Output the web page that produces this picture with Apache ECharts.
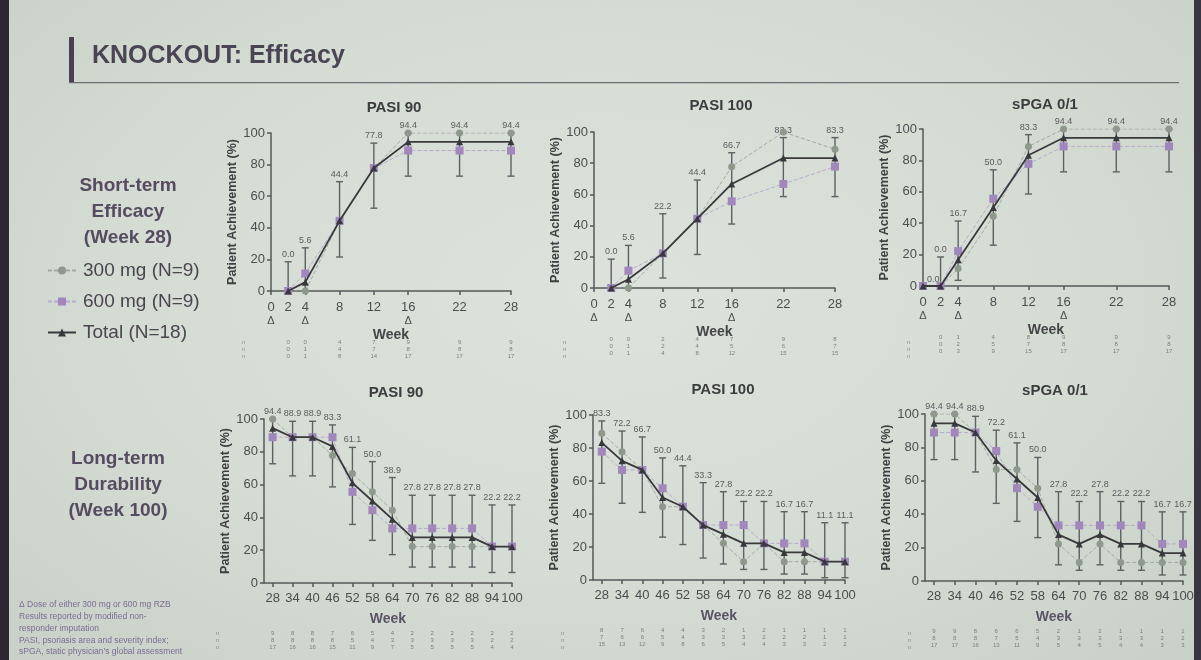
<!DOCTYPE html>
<html>
<head>
<meta charset="utf-8">
<script src="https://cdn.jsdelivr.net/npm/echarts@6/dist/echarts.min.js"></script>
<style>
  html, body { margin: 0; padding: 0; }
  body {
    width: 1201px; height: 660px; overflow: hidden;
    background: radial-gradient(ellipse at 50% 45%, #dde3dc 0%, #d5dcd4 55%, #c9d0c8 100%);
  }
  #main { width: 1201px; height: 660px; }
</style>
</head>
<body>
<div id="main"></div>
<script>
(function() {
  // ---- weeks / ticks ----
  var shortWeeks = [2, 4, 8, 12, 16, 22, 28];
  var spgaShortWeeks = [0, 2, 4, 8, 12, 16, 22, 28];
  var longWeeks = [28, 34, 40, 46, 52, 58, 64, 70, 76, 82, 88, 94, 100];
  var shortTicks = [0, 2, 4, 8, 12, 16, 22, 28];
  var doseWeeks = [0, 4, 16];

  // ---- short-term PASI 90 ----
  var s90_300 = [0, 0, 44.4, 77.8, 100, 100, 100];
  var s90_600 = [0, 11.1, 44.4, 77.8, 88.9, 88.9, 88.9];
  var s90_tot = [0, 5.6, 44.4, 77.8, 94.4, 94.4, 94.4];
  var s90_lo = [0, 0.1, 21.5, 52.4, 72.7, 72.7, 72.7];
  var s90_hi = [18.5, 27.3, 69.2, 93.6, 99.9, 99.9, 99.9];
  var s90_n300 = [0, 0, 4, 7, 9, 9, 9];
  var s90_n600 = [0, 1, 4, 7, 8, 8, 8];
  var s90_ntot = [0, 1, 8, 14, 17, 17, 17];

  // ---- short-term PASI 100 ----
  var s100_300 = [0, 0, 22.2, 44.4, 77.8, 100, 88.9];
  var s100_600 = [0, 11.1, 22.2, 44.4, 55.6, 66.7, 77.8];
  var s100_tot = [0, 5.6, 22.2, 44.4, 66.7, 83.3, 83.3];
  var s100_lo = [0, 0.1, 6.4, 21.5, 41.0, 58.6, 58.6];
  var s100_hi = [18.5, 27.3, 47.6, 69.2, 86.7, 96.4, 96.4];
  var s100_n300 = [0, 0, 2, 4, 7, 9, 8];
  var s100_n600 = [0, 1, 2, 4, 5, 6, 7];
  var s100_ntot = [0, 1, 4, 8, 12, 15, 15];

  // ---- short-term sPGA 0/1 ----
  var sPga_300 = [0, 0, 11.1, 44.4, 88.9, 100, 100, 100];
  var sPga_600 = [0, 0, 22.2, 55.6, 77.8, 88.9, 88.9, 88.9];
  var sPga_tot = [0, 0, 16.7, 50.0, 83.3, 94.4, 94.4, 94.4];
  var sPga_lo = [null, 0, 3.6, 26.0, 58.6, 72.7, 72.7, 72.7];
  var sPga_hi = [null, 18.5, 41.4, 74.0, 96.4, 99.9, 99.9, 99.9];
  var sPga_n300 = [null, 0, 1, 4, 8, 9, 9, 9];
  var sPga_n600 = [null, 0, 2, 5, 7, 8, 8, 8];
  var sPga_ntot = [null, 0, 3, 9, 15, 17, 17, 17];

  // ---- long-term PASI 90 ----
  var l90_300 = [100, 88.9, 88.9, 77.8, 66.7, 55.6, 44.4, 22.2, 22.2, 22.2, 22.2, 22.2, 22.2];
  var l90_600 = [88.9, 88.9, 88.9, 88.9, 55.6, 44.4, 33.3, 33.3, 33.3, 33.3, 33.3, 22.2, 22.2];
  var l90_tot = [94.4, 88.9, 88.9, 83.3, 61.1, 50.0, 38.9, 27.8, 27.8, 27.8, 27.8, 22.2, 22.2];
  var l90_lo = [72.7, 65.3, 65.3, 58.6, 35.7, 26.0, 17.3, 9.7, 9.7, 9.7, 9.7, 6.4, 6.4];
  var l90_hi = [99.9, 98.6, 98.6, 96.4, 82.7, 74.0, 64.3, 53.5, 53.5, 53.5, 53.5, 47.6, 47.6];
  var l90_n300 = [9, 8, 8, 7, 6, 5, 4, 2, 2, 2, 2, 2, 2];
  var l90_n600 = [8, 8, 8, 8, 5, 4, 3, 3, 3, 3, 3, 2, 2];
  var l90_ntot = [17, 16, 16, 15, 11, 9, 7, 5, 5, 5, 5, 4, 4];

  // ---- long-term PASI 100 ----
  var l100_300 = [88.9, 77.8, 66.7, 44.4, 44.4, 33.3, 22.2, 11.1, 22.2, 11.1, 11.1, 11.1, 11.1];
  var l100_600 = [77.8, 66.7, 66.7, 55.6, 44.4, 33.3, 33.3, 33.3, 22.2, 22.2, 22.2, 11.1, 11.1];
  var l100_tot = [83.3, 72.2, 66.7, 50.0, 44.4, 33.3, 27.8, 22.2, 22.2, 16.7, 16.7, 11.1, 11.1];
  var l100_lo = [58.6, 46.5, 41.0, 26.0, 21.5, 13.3, 9.7, 6.4, 6.4, 3.6, 3.6, 1.4, 1.4];
  var l100_hi = [96.4, 90.3, 86.7, 74.0, 69.2, 59.0, 53.5, 47.6, 47.6, 41.4, 41.4, 34.7, 34.7];
  var l100_n300 = [8, 7, 6, 4, 4, 3, 2, 1, 2, 1, 1, 1, 1];
  var l100_n600 = [7, 6, 6, 5, 4, 3, 3, 3, 2, 2, 2, 1, 1];
  var l100_ntot = [15, 13, 12, 9, 8, 6, 5, 4, 4, 3, 3, 2, 2];

  // ---- long-term sPGA 0/1 ----
  var lPga_300 = [100, 100, 88.9, 66.7, 66.7, 55.6, 22.2, 11.1, 22.2, 11.1, 11.1, 11.1, 11.1];
  var lPga_600 = [88.9, 88.9, 88.9, 77.8, 55.6, 44.4, 33.3, 33.3, 33.3, 33.3, 33.3, 22.2, 22.2];
  var lPga_tot = [94.4, 94.4, 88.9, 72.2, 61.1, 50.0, 27.8, 22.2, 27.8, 22.2, 22.2, 16.7, 16.7];
  var lPga_lo = [72.7, 72.7, 65.3, 46.5, 35.7, 26.0, 9.7, 6.4, 9.7, 6.4, 6.4, 3.6, 3.6];
  var lPga_hi = [99.9, 99.9, 98.6, 90.3, 82.7, 74.0, 53.5, 47.6, 53.5, 47.6, 47.6, 41.4, 41.4];
  var lPga_n300 = [9, 9, 8, 6, 6, 5, 2, 1, 2, 1, 1, 1, 1];
  var lPga_n600 = [8, 8, 8, 7, 5, 4, 3, 3, 3, 3, 3, 2, 2];
  var lPga_ntot = [17, 17, 16, 13, 11, 9, 5, 4, 5, 4, 4, 3, 3];

  var seriesNames = ['300 mg (N=9)', '600 mg (N=9)', 'Total (N=18)'];

  var panels = [
    { title: 'PASI 90', weeks: shortWeeks, long: false, d300: s90_300, d600: s90_600, tot: s90_tot, lo: s90_lo, hi: s90_hi, n: [s90_n300, s90_n600, s90_ntot] },
    { title: 'PASI 100', weeks: shortWeeks, long: false, d300: s100_300, d600: s100_600, tot: s100_tot, lo: s100_lo, hi: s100_hi, n: [s100_n300, s100_n600, s100_ntot] },
    { title: 'sPGA 0/1', weeks: spgaShortWeeks, long: false, d300: sPga_300, d600: sPga_600, tot: sPga_tot, lo: sPga_lo, hi: sPga_hi, n: [sPga_n300, sPga_n600, sPga_ntot] },
    { title: 'PASI 90', weeks: longWeeks, long: true, d300: l90_300, d600: l90_600, tot: l90_tot, lo: l90_lo, hi: l90_hi, n: [l90_n300, l90_n600, l90_ntot] },
    { title: 'PASI 100', weeks: longWeeks, long: true, d300: l100_300, d600: l100_600, tot: l100_tot, lo: l100_lo, hi: l100_hi, n: [l100_n300, l100_n600, l100_ntot] },
    { title: 'sPGA 0/1', weeks: longWeeks, long: true, d300: lPga_300, d600: lPga_600, tot: lPga_tot, lo: lPga_lo, hi: lPga_hi, n: [lPga_n300, lPga_n600, lPga_ntot] }
  ];

  // layout of the six plots (pixels)
  var boxes = [
    { left: 271, top: 133, width: 240, height: 158, tx: 389, ty: 95 },
    { left: 594, top: 132, width: 241, height: 156, tx: 716, ty: 93 },
    { left: 923, top: 129, width: 246, height: 157, tx: 1040, ty: 92 },
    { left: 264, top: 419, width: 248, height: 164, tx: 391, ty: 380 },
    { left: 593, top: 415, width: 252, height: 165, tx: 718, ty: 377 },
    { left: 925, top: 414, width: 258, height: 167, tx: 1050, ty: 378 }
  ];

  var font = '"Liberation Sans", Arial, sans-serif';
  var axisCol = '#56585a';
  var c300 = '#8d9a8b', c300line = '#a2aaa1';
  var c600 = '#a088bd', c600line = '#b9a9cb';
  var cTot = '#38383d';
  var barCol = '#5e6063';

  var grids = [], xAxes = [], yAxes = [], titles = [], series = [];

  function pts(weeks, arr) {
    return weeks.map(function(w, i) { return [w, arr[i]]; });
  }

  function errorItem(params, api) {
    var x = api.value(0), lo = api.value(1), hi = api.value(2), v = api.value(3);
    var label = v.toFixed(1);
    var style = { stroke: barCol, lineWidth: 1.4 };
    var cap = 3.5;
    if (isNaN(lo) || isNaN(hi)) {
      var p = api.coord([x, v]);
      return { type: 'text', style: { text: label, x: p[0] + 4, y: p[1] - 2, textAlign: 'left', textVerticalAlign: 'bottom', fill: '#5b5b5e', fontSize: 9, fontFamily: font } };
    }
    var top = api.coord([x, hi]);
    var bot = api.coord([x, lo]);
    return {
      type: 'group',
      children: [
        { type: 'line', shape: { x1: top[0], y1: top[1], x2: bot[0], y2: bot[1] }, style: style },
        { type: 'line', shape: { x1: top[0] - cap, y1: top[1], x2: top[0] + cap, y2: top[1] }, style: style },
        { type: 'line', shape: { x1: bot[0] - cap, y1: bot[1], x2: bot[0] + cap, y2: bot[1] }, style: style },
        { type: 'text', style: { text: label, x: top[0], y: top[1] - 3, textAlign: 'center', textVerticalAlign: 'bottom', fill: '#5b5b5e', fontSize: 9, fontFamily: font } }
      ]
    };
  }

  panels.forEach(function(p, i) {
    var b = boxes[i];
    var xmin = p.long ? 25.4 : 0;
    var xmax = p.long ? 100 : 28;
    var ticks = p.long ? longWeeks : shortTicks;
    grids.push({ left: b.left, top: b.top, width: b.width, height: b.height });
    titles.push({
      text: p.title, left: b.tx, top: b.ty, textAlign: 'center',
      textStyle: { fontFamily: font, fontSize: 15, fontWeight: 'bold', color: '#3d3d40' }
    });
    xAxes.push({
      type: 'value', gridIndex: i, min: xmin, max: xmax,
      name: 'Week', nameLocation: 'middle', nameGap: p.long ? 29 : 30,
      nameTextStyle: { fontFamily: font, fontSize: 14, fontWeight: 'bold', color: p.long ? '#5c5266' : '#454548' },
      axisLine: { show: true, onZero: false, lineStyle: { color: axisCol, width: 1.5 } },
      axisTick: { show: true, customValues: ticks, length: 4, lineStyle: { color: axisCol, width: 1.5 } },
      splitLine: { show: false },
      axisLabel: {
        customValues: ticks, margin: p.long ? 9 : 10, fontFamily: font, fontSize: 13, color: '#4d4d50', lineHeight: 13,
        formatter: p.long ? '{value}' : function(v) {
          return doseWeeks.indexOf(v) >= 0 ? v + '\n{d|Δ}' : v + '\n{d| }';
        },
        rich: { d: { fontSize: 11, lineHeight: 13, color: '#4d4d50', fontFamily: font } }
      }
    });
    yAxes.push({
      type: 'value', gridIndex: i, min: 0, max: 100, interval: 20,
      name: 'Patient Achievement (%)', nameLocation: 'middle', nameGap: 31,
      nameTextStyle: { fontFamily: font, fontSize: 12.5, fontWeight: 'bold', color: '#404043' },
      axisLine: { show: true, lineStyle: { color: axisCol, width: 1.5 } },
      axisTick: { show: true, length: 4, lineStyle: { color: axisCol, width: 1.5 } },
      splitLine: { show: false },
      axisLabel: { margin: 6, fontFamily: font, fontSize: 13, color: '#4d4d50' }
    });
    series.push({
      type: 'custom', xAxisIndex: i, yAxisIndex: i, z: 1, silent: true,
      renderItem: errorItem,
      data: p.weeks.map(function(w, k) { return [w, p.lo[k], p.hi[k], p.tot[k]]; })
    });
    series.push({
      name: seriesNames[0], type: 'line', xAxisIndex: i, yAxisIndex: i, z: 3,
      data: pts(p.weeks, p.d300), symbol: 'circle', symbolSize: 7,
      itemStyle: { color: c300 },
      lineStyle: { color: c300line, width: 1, type: [4, 2] }
    });
    series.push({
      name: seriesNames[1], type: 'line', xAxisIndex: i, yAxisIndex: i, z: 3,
      data: pts(p.weeks, p.d600), symbol: 'rect', symbolSize: 8,
      itemStyle: { color: c600 },
      lineStyle: { color: c600line, width: 1, type: [4, 2] }
    });
    series.push({
      name: seriesNames[2], type: 'line', xAxisIndex: i, yAxisIndex: i, z: 4,
      data: pts(p.weeks, p.tot), symbol: 'triangle', symbolSize: 7,
      itemStyle: { color: cTot },
      lineStyle: { color: cTot, width: 1.8 }
    });
  });

  // count rows under each plot (an extra label-only axis per grid)
  panels.forEach(function(p, i) {
    xAxes.push({
      type: 'value', gridIndex: i, min: p.long ? 25.4 : 0, max: p.long ? 100 : 28,
      position: 'bottom', offset: p.long ? 45 : 46,
      axisLine: { show: false }, axisTick: { show: false }, splitLine: { show: false },
      axisLabel: {
        customValues: p.weeks, margin: 2, fontFamily: font, fontSize: 6, lineHeight: 7, color: '#7d7f80',
        formatter: function(v) {
          var k = p.weeks.indexOf(v);
          if (k < 0 || p.n[0][k] == null) return '';
          return p.n[0][k] + '\n' + p.n[1][k] + '\n' + p.n[2][k];
        }
      }
    });
  });

  var purple = '#574b60';
  var graphics = [
    { type: 'rect', left: 0, top: 0, shape: { width: 9, height: 660 }, style: { fill: '#2c2731' } },
    { type: 'rect', left: 1194, top: 0, shape: { width: 7, height: 660 }, style: { fill: '#3a3640' } },
    { type: 'rect', left: 69, top: 37, shape: { width: 5, height: 46 }, style: { fill: '#4a3f55' } },
    { type: 'rect', left: 69, top: 82, shape: { width: 1110, height: 1.2 }, style: { fill: '#6f6d74' } },
    { type: 'text', left: 92, top: 44, style: { text: 'KNOCKOUT: Efficacy', fontFamily: font, fontSize: 25, fontWeight: 'bold', fill: '#4a4453' } },
    { type: 'text', x: 128, y: 173, style: { text: 'Short-term\nEfficacy\n(Week 28)', fontFamily: font, fontSize: 19, fontWeight: 'bold', fill: purple, textAlign: 'center', lineHeight: 26 } },
    { type: 'text', x: 118, y: 446, style: { text: 'Long-term\nDurability\n(Week 100)', fontFamily: font, fontSize: 19, fontWeight: 'bold', fill: purple, textAlign: 'center', lineHeight: 26 } },
    { type: 'text', left: 19, top: 599, style: { text: 'Δ Dose of either 300 mg or 600 mg RZB\nResults reported by modified non-\nresponder imputation\nPASI, psoriasis area and severity index;\nsPGA, static physician\'s global assessment', fontFamily: font, fontSize: 8.5, fill: '#7d6b92', lineHeight: 11.8 } }
  ];
  // row markers left of count rows
  [[242, 339], [563, 339], [907, 339], [216, 630], [561, 630], [908, 630]].forEach(function(q) {
    graphics.push({ type: 'text', left: q[0], top: q[1], style: { text: 'n\nn\nn', fontFamily: font, fontSize: 6, lineHeight: 7, fill: '#8a8c8d' } });
  });

  var chart = echarts.init(document.getElementById('main'), null, { renderer: 'canvas' });
  chart.setOption({
    animation: false,
    backgroundColor: 'transparent',
    title: titles,
    legend: {
      data: seriesNames, orient: 'vertical', left: 42, top: 256, itemGap: 12,
      itemWidth: 28, itemHeight: 10,
      textStyle: { fontFamily: font, fontSize: 19, color: '#4a4550', padding: [0, 0, 0, 2] }
    },
    grid: grids,
    xAxis: xAxes,
    yAxis: yAxes,
    series: series,
    graphic: graphics
  });
})();
</script>
</body>
</html>
